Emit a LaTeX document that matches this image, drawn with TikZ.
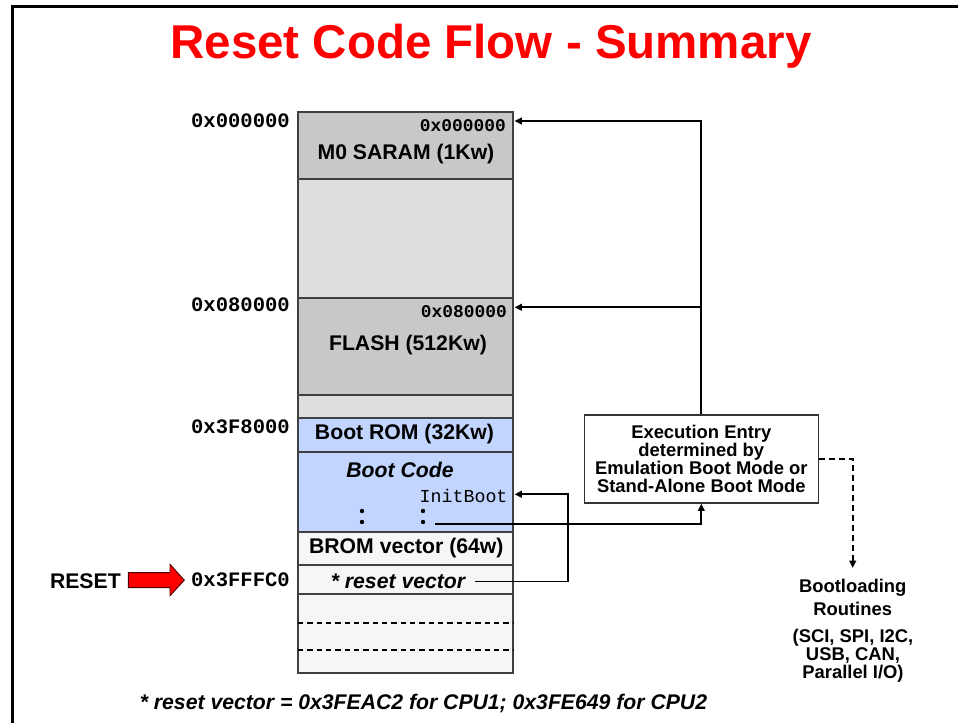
\documentclass[tikz,border=0pt]{standalone}
\usepackage{fontspec}
\setmainfont{Liberation Sans}
\newfontfamily\monof{Liberation Mono}
\usetikzlibrary{arrows.meta}
\definecolor{titlered}{RGB}{255,0,0}
\definecolor{memdark}{RGB}{200,200,200}
\definecolor{memlight}{RGB}{222,222,222}
\definecolor{memblue}{RGB}{194,213,255}
\definecolor{memwhite}{RGB}{246,246,246}
\begin{document}
\begin{tikzpicture}[x=0.75pt,y=-0.75pt,
  secbox/.style={draw=black!75, line width=1pt},
  boxtxt/.style={font=\fontsize{15.9}{18}\selectfont\bfseries, inner sep=0},
  addr/.style={font=\fontsize{15.4}{17}\selectfont\monof\bfseries, inner sep=0, anchor=east},
  inaddr/.style={font=\fontsize{13.4}{15}\selectfont\monof\bfseries, inner sep=0, anchor=east},
  conn/.style={line width=1.35pt, -{Triangle[length=5.5pt,width=5pt]}},
  boottxt/.style={font=\fontsize{13.8}{17.25}\selectfont\bfseries, inner sep=0, align=center},
  dotmark/.style={fill=black}
]
\useasboundingbox[fill=white] (0,0) rectangle (958,723);
% frame
\draw[line width=2.25pt] (12,730) -- (12,7) -- (965,7);
% title
\node[font=\fontsize{35.6}{40}\selectfont\bfseries, text=titlered, inner sep=0, anchor=base] (title) at (491,59) {Reset Code Flow - Summary};

% memory column
\draw[secbox, fill=memdark]  (298,112) rectangle (513,179);
\draw[secbox, fill=memlight] (298,179) rectangle (513,298);
\draw[secbox, fill=memdark]  (298,298) rectangle (513,395);
\draw[secbox, fill=memlight] (298,395) rectangle (513,418);
\draw[secbox, fill=memblue]  (298,418) rectangle (513,452);
\draw[secbox, fill=memblue]  (298,452) rectangle (513,532);
\draw[secbox, fill=memwhite] (298,532) rectangle (513,565);
\draw[secbox, fill=memwhite] (298,565) rectangle (513,594);
\draw[secbox, fill=memwhite] (298,594) rectangle (513,673);
\draw[line width=0.8pt, dash pattern=on 4pt off 3pt] (298,623) -- (513,623);
\draw[line width=0.8pt, dash pattern=on 4pt off 3pt] (298,650) -- (513,650);

% section texts
\node[inaddr] (a0in) at (506,126) {0x000000};
\node[boxtxt] (m0) at (406,154) {M0 SARAM (1Kw)};
\node[inaddr] (a8in) at (507,312) {0x080000};
\node[boxtxt] (flash) at (408,345) {FLASH (512Kw)};
\node[boxtxt] (brom) at (404.5,434) {Boot ROM (32Kw)};
\node[boxtxt, font=\fontsize{15.9}{18}\selectfont\bfseries\itshape] (bcode) at (400,470) {Boot Code};
\node[font=\fontsize{13.7}{15}\selectfont\monof, inner sep=0, anchor=east] (initboot) at (507.7,496) {InitBoot};
\node[boxtxt] (bvec) at (406.3,548.3) {BROM vector (64w)};
\node[boxtxt, font=\fontsize{15.9}{18}\selectfont\bfseries\itshape] (rvec) at (398,581) {* reset vector};

% dots
\fill[dotmark] (362,511) circle (2.2);
\fill[dotmark] (362,522) circle (2.2);
\fill[dotmark] (423,511) circle (2.2);
\fill[dotmark] (423,522) circle (2.2);

% left addresses
\node[addr] (l0) at (290,121) {0x000000};
\node[addr] (l8) at (290,304.5) {0x080000};
\node[addr] (l3f8) at (290,426.3) {0x3F8000};
\node[addr] (l3ff) at (290,579.3) {0x3FFFC0};

% RESET
\node[boxtxt, anchor=east] (reset) at (121,581) {RESET};
\draw[fill=red, draw=black!70!red, line width=0.7pt]
  (128.3,572.7) -- (170,572.7) -- (170,564.3) -- (184.3,580.2) -- (170,595.7) -- (170,587.7) -- (128.3,587.7) -- cycle;

% execution entry box
\node[draw=black!80, line width=1pt, fill=white, minimum width=175.5pt, minimum height=66pt,
      align=center, inner sep=0, font=\fontsize{13.8}{13.3}\selectfont\bfseries] (exe) at (701.3,458.9)
  {Execution Entry\\determined by\\Emulation Boot Mode or\\Stand-Alone Boot Mode};

% bootloading
\node[boottxt] (bl1) at (852.7,597.5) {Bootloading\\Routines};
\node[boottxt, font=\fontsize{13.8}{11.6}\selectfont\bfseries] (bl2) at (853,656) {(SCI, SPI, I2C,\\USB, CAN,\\Parallel I/O)};

% footnote
\node[font=\fontsize{15.9}{18}\selectfont\bfseries\itshape, inner sep=0] (foot) at (423.5,703) {* reset vector = 0x3FEAC2 for CPU1; 0x3FE649 for CPU2};

% connectors
\coordinate (m0in) at (514.5,121);
\coordinate (flin) at (514.5,307.3);
\coordinate (dotsrc) at (435,524.3);
\coordinate (rvsrc) at (475,581.5);
\coordinate (ibin) at (514.5,494.3);
\coordinate (blin) at (852.7,568);
\draw[conn] (exe.north) |- (m0in);
\draw[conn] (exe.north |- flin) -- (flin);
\draw[conn] (dotsrc) -| (exe.south);
\draw[conn] (rvsrc) -- (568.3,581.5) |- (ibin);
\draw[conn, dash pattern=on 4.5pt off 3pt] (exe.east) -| (blin);
\end{tikzpicture}
\end{document}
